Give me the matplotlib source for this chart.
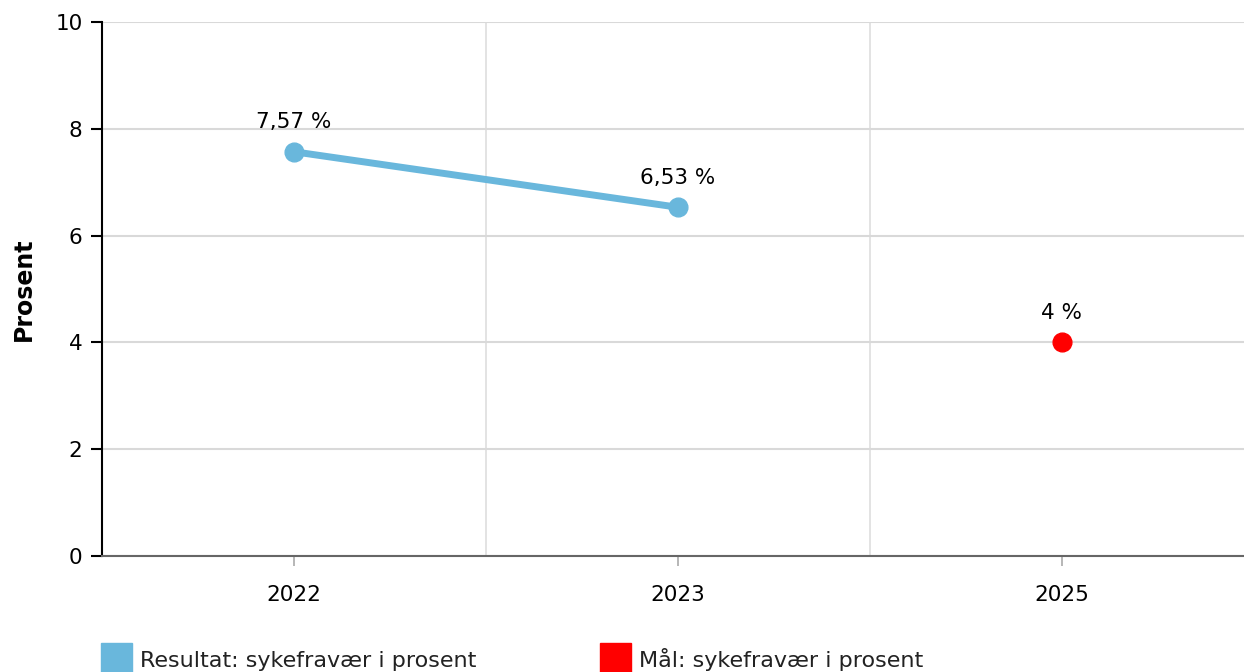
import matplotlib.pyplot as plt
from matplotlib.patches import Rectangle

# data
years = ["2022", "2023", "2025"]
resultat = [7.57, 6.53]          # sykefravær 2022, 2023
maal = [4.0]                     # mål 2025
resultat_labels = ["7,57 %", "6,53 %"]
maal_labels = ["4 %"]

blue = "#69b7dc"
red = "#ff0000"

plt.rcParams["font.family"] = ["DejaVu Sans"]

fig = plt.figure(figsize=(12.44, 6.72), dpi=100)
ax = fig.add_axes([102 / 1244, 1 - 556 / 672, 1 - 102 / 1244, (556 - 22) / 672])

x_res = [0, 1]
x_maal = [2]

ax.plot(x_res, resultat, color=blue, lw=5, marker="o", ms=13.5, solid_capstyle="butt", zorder=3)
ax.plot(x_maal, maal, color=red, lw=0, marker="o", ms=13.5, zorder=3)

for x, v, t in zip(x_res, resultat, resultat_labels):
    ax.annotate(t, (x, v), xytext=(0, 14), textcoords="offset points",
                ha="center", va="bottom", fontsize=15.5)
for x, v, t in zip(x_maal, maal, maal_labels):
    ax.annotate(t, (x, v), xytext=(0, 14), textcoords="offset points",
                ha="center", va="bottom", fontsize=15.5)

ax.set_xlim(-0.5, 2.474)
ax.set_ylim(0, 10)
ax.set_yticks([0, 2, 4, 6, 8, 10])
ax.set_xticks(range(len(years)))
ax.set_xticklabels(years)
ax.set_xticks([0.5, 1.5], minor=True)

ax.grid(axis="y", color="#d9d9d9", lw=1.5)
ax.grid(axis="x", which="minor", color="#dedede", lw=1.2)
ax.set_axisbelow(True)

for s in ["top", "right"]:
    ax.spines[s].set_visible(False)
ax.spines["left"].set_color("black")
ax.spines["left"].set_linewidth(1.5)
ax.spines["bottom"].set_color("#666666")
ax.spines["bottom"].set_linewidth(1.5)

ax.tick_params(axis="y", length=8, width=1.5, color="black", labelsize=15.5, pad=6)
ax.tick_params(axis="x", which="major", length=7, width=1.2, color="#aaaaaa", labelsize=15.5, pad=14)
ax.tick_params(axis="x", which="minor", length=0)

ax.set_ylabel("Prosent", fontsize=17, fontweight="bold", labelpad=14)

# legend squares at bottom
legend_items = [("Resultat: sykefravær i prosent", blue, 101),
                ("Mål: sykefravær i prosent", red, 600)]
for text, col, px in legend_items:
    fig.patches.append(Rectangle((px / 1244, 0), 31 / 1244, 29 / 672,
                                 transform=fig.transFigure, color=col))
    fig.text((px + 39) / 1244, 1 - 667 / 672, text, fontsize=16,
             va="baseline", ha="left", color="#222222")

fig.savefig("out.png", dpi=100)
